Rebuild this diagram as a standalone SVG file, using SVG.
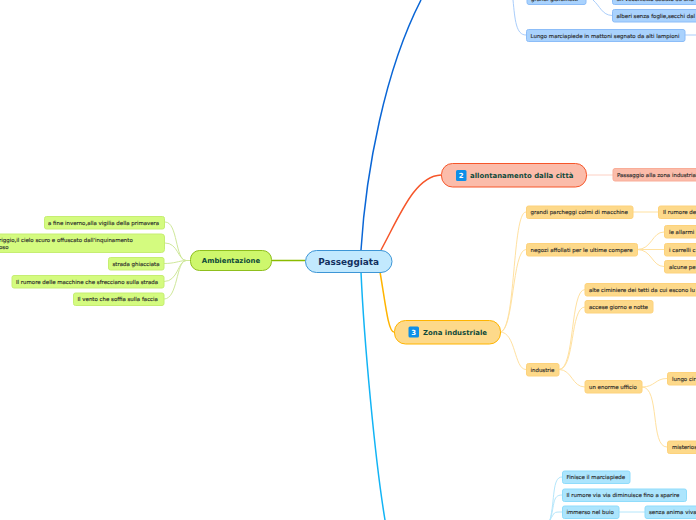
<svg xmlns="http://www.w3.org/2000/svg" width="696" height="520" viewBox="0 0 696 520">
<style>
text{font-family:"DejaVu Sans",Verdana,sans-serif;font-size:5.45px;fill:#2b2b2b;stroke:#2b2b2b;stroke-width:.14px}
.t{font-weight:bold;font-size:6.95px;fill:#0f4a3a;stroke:none}
.c{font-weight:bold;font-size:8.9px;fill:#12305e;stroke:none}
.l{fill:none;stroke-width:1}
.m{fill:none;stroke-width:1.5}
.gl{fill:#d4fb7f;stroke:#c6ee72}
.bl{fill:#a9d2fd;stroke:#8cbdf8}
.rl{fill:#fbbcaa;stroke:#f9ad98}
.yl{fill:#fdd98a;stroke:#fdd27c}
.cl{fill:#ace5fd;stroke:#8fdcfb}
.sw{fill:#0d8fe8}
.n{font-weight:bold;font-size:7px;fill:#fff;stroke:none}
</style>
<rect width="696" height="520" fill="#fff"/>
<g id="connectors">
<path class="m" stroke="#0a66d6" d="M361 250C366 170 385 70 421 0"/>
<path class="m" stroke="#f6562a" d="M381 250C400 215 415 176 441 175"/>
<path class="m" stroke="#ffb400" d="M380 272C385 300 388 332 394 332"/>
<path class="m" stroke="#12b4f5" d="M361 272C364 340 375 460 385 520"/>
<path class="m" stroke="#8abb00" d="M272 260.500H305"/>
<g class="l" stroke="#cfe89a">
<path d="M186 260.500C175 260 178 222 165 222"/>
<path d="M186 260.500C178 260 178 243 165 243"/>
<path d="M186 260.500C178 261 175 263.500 164 263.500"/>
<path d="M186 260.500C178 261 178 281.500 164 281.500"/>
<path d="M186 260.500C176 261 178 299 164 299"/>
<path d="M186 260.500H190"/>
</g>
<g class="l" stroke="#a9cdfb">
<path d="M513 0C515 20 516 35 526 35"/>
<path d="M593 0C600 6 602 15 612 15.500"/>
<path d="M685 35H696"/>
</g>
<path class="l" stroke="#fdd0c3" d="M587 175H613"/>
<g class="l" stroke="#ffe1a0">
<path d="M500 332C516 332 512 212 526 212"/>
<path d="M500 332C514 332 512 249.500 526 249.500"/>
<path d="M500 332C516 332 514 369.500 526 369.500"/>
<path d="M633 212H658"/>
<path d="M637 249.500C652 249.500 652 232 664 232"/>
<path d="M637 249.500H664"/>
<path d="M637 249.500C652 249.500 652 266.500 664 266.500"/>
<path d="M559 369.500C575 369.500 570 289.500 585 289.500"/>
<path d="M559 369.500C575 369.500 570 307 585 307"/>
<path d="M559 369.500C572 369.500 572 387 585 387"/>
<path d="M642 387C655 387 655 378.500 667 378.500"/>
<path d="M642 387C660 387 650 447 667 447"/>
</g>
<g class="l" stroke="#b4e6fb">
<path d="M550 520C555 500 552 477 562 477"/>
<path d="M550 520C555 505 552 495 562 495"/>
<path d="M550 520C555 512 553 512 562 512"/>
<path d="M619 512H645"/>
</g>
</g>
<g id="passeggiata"><rect x="305.500" y="250.500" width="86.500" height="22" rx="11" fill="#c2e9fe" stroke="#3d96d6"/><text class="c" x="348.700" y="265" text-anchor="middle">Passeggiata</text></g>
<g id="ambientazione"><rect x="190.500" y="250.500" width="81" height="20" rx="9" fill="#cef76c" stroke="#8fbf1d"/><text class="t" x="231" y="263" text-anchor="middle">Ambientazione</text></g>
<g id="l1"><rect class="gl" x="44.500" y="216.500" width="120" height="12.500" rx="2"/><text x="48" y="224.700">a fine inverno,alla vigilia della primavera</text></g>
<g id="l2"><rect class="gl" x="-5" y="234" width="169.500" height="18.500" rx="3"/><text x="-1" y="241.700">riggio,il cielo scuro e offuscato dall'inquinamento</text><text x="-1" y="249">oso</text></g>
<g id="l3"><rect class="gl" x="108.500" y="257.500" width="55.500" height="12.500" rx="2"/><text x="112.500" y="265.700">strada ghiacciata</text></g>
<g id="l4"><rect class="gl" x="12" y="275.500" width="152" height="12.500" rx="2"/><text x="16" y="283.700">Il rumore delle macchine che sfrecciano sulla strada</text></g>
<g id="l5"><rect class="gl" x="73.500" y="293" width="90.500" height="12.500" rx="2"/><text x="77.500" y="301">Il vento che soffia sulla faccia</text></g>
<g id="giardinetti"><rect class="bl" x="527" y="-8" width="59" height="12.500" rx="2"/><text x="531" y="1">grandi giardinetti</text></g>
<g id="vecchietto"><rect class="bl" x="612.500" y="-8" width="90" height="12.500" rx="2"/><text x="616.500" y="1">un vecchietto seduto su una</text></g>
<g id="alberi"><rect class="bl" x="612.500" y="9.500" width="90" height="12.500" rx="2"/><text x="616.500" y="17.700">alberi senza foglie,secchi dal</text></g>
<g id="lungo"><rect class="bl" x="526.500" y="29.500" width="158.500" height="12" rx="2"/><text x="530.500" y="37.500">Lungo marciapiede in mattoni segnato da alti lampioni</text></g>
<g id="allontanamento"><rect x="441.500" y="163.500" width="145" height="23.500" rx="11" fill="#fbbcaa" stroke="#f6562a"/><rect class="sw" x="456" y="170" width="10.500" height="11" rx="1.500"/><text class="n" x="461.200" y="178" text-anchor="middle">2</text><text class="t" x="470" y="178">allontanamento dalla città</text></g>
<g id="passaggio"><rect class="rl" x="613" y="168.500" width="90" height="12.500" rx="2"/><text x="617" y="176.700">Passaggio alla zona industriale</text></g>
<g id="zona"><rect x="394.500" y="320.500" width="106" height="23.500" rx="11" fill="#fdd98a" stroke="#ffb400"/><rect class="sw" x="408.500" y="326.500" width="10.500" height="11" rx="1.500"/><text class="n" x="413.700" y="335" text-anchor="middle">3</text><text class="t" x="423" y="335">Zona industriale</text></g>
<g id="parcheggi"><rect class="yl" x="526.500" y="206" width="106.500" height="12.500" rx="2"/><text x="530.500" y="214">grandi parcheggi colmi di macchine</text></g>
<g id="rumore"><rect class="yl" x="658.500" y="206" width="45" height="12.500" rx="2"/><text x="663" y="214">Il rumore de</text></g>
<g id="negozi"><rect class="yl" x="526.500" y="243.500" width="111" height="12.500" rx="2"/><text x="530.500" y="251.500">negozi affollati per le ultime compere</text></g>
<g id="allarmi"><rect class="yl" x="664.500" y="225.500" width="40" height="12.500" rx="2"/><text x="669" y="233.500">le allarmi</text></g>
<g id="carrelli"><rect class="yl" x="664.500" y="243.500" width="40" height="12.500" rx="2"/><text x="669" y="251.500">i carrelli c</text></g>
<g id="alcune"><rect class="yl" x="664.500" y="260.500" width="40" height="12.500" rx="2"/><text x="669" y="268.500">alcune pe</text></g>
<g id="ciminiere"><rect class="yl" x="585" y="283.500" width="120" height="12.500" rx="2"/><text x="589" y="291.500">alte ciminiere dei tetti da cui escono lu</text></g>
<g id="accese"><rect class="yl" x="585" y="300.500" width="68" height="12.500" rx="2"/><text x="589" y="308.700">accese giorno e notte</text></g>
<g id="industrie"><rect class="yl" x="526.500" y="363.500" width="32.500" height="12.500" rx="2"/><text x="530.500" y="371.700">industrie</text></g>
<g id="ufficio"><rect class="yl" x="585" y="380.500" width="57" height="12.500" rx="2"/><text x="589" y="388.800">un enorme ufficio</text></g>
<g id="circ"><rect class="yl" x="667.500" y="372.500" width="40" height="12.500" rx="2"/><text x="672" y="380.700">lungo cir</text></g>
<g id="misterios"><rect class="yl" x="667.500" y="441" width="40" height="12.500" rx="2"/><text x="672" y="449">misterios</text></g>
<g id="finisce"><rect class="cl" x="562.500" y="471" width="67.500" height="12.500" rx="2"/><text x="566.500" y="479">Finisce il marciapiede</text></g>
<g id="via"><rect class="cl" x="562.500" y="489" width="124" height="12.500" rx="2"/><text x="566.500" y="497">Il rumore via via diminuisce fino a sparire</text></g>
<g id="buio"><rect class="cl" x="562.500" y="506" width="56.500" height="12.500" rx="2"/><text x="566.500" y="514">immerso nel buio</text></g>
<g id="anima"><rect class="cl" x="645" y="506" width="60" height="12.500" rx="2"/><text x="649" y="514">senza anima viva</text></g>
</svg>
